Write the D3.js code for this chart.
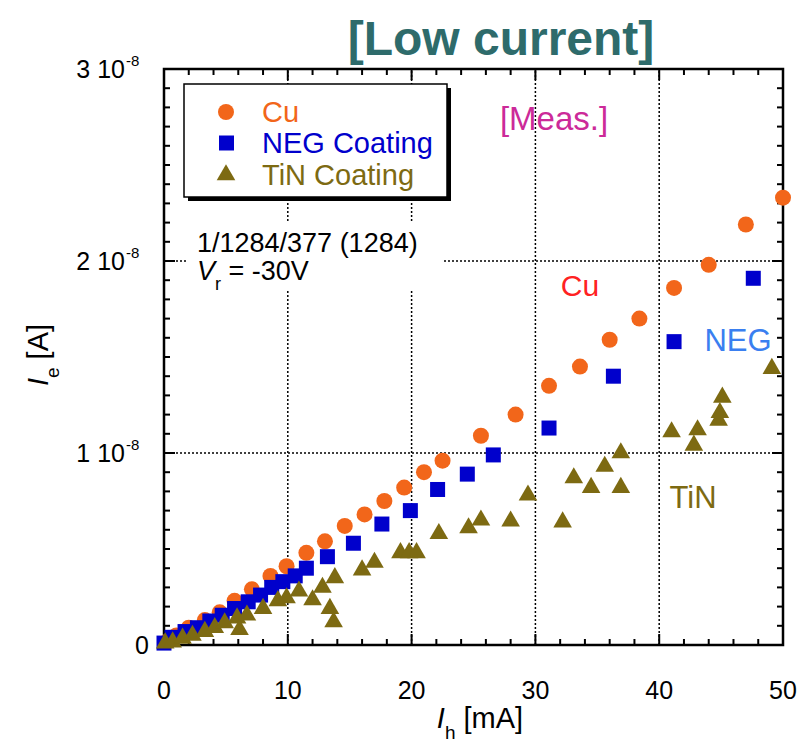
<!DOCTYPE html>
<html><head><meta charset="utf-8">
<script src="https://cdn.jsdelivr.net/npm/d3@7"></script>
<style>body{margin:0;background:#fff}svg{display:block}</style>
</head><body><svg id="c" width="800" height="745"></svg>
<script>
// Data: [I_h (mA), I_e (units of 1e-9 A)]
const cuData = [[0.3,0.2],[1.0,0.5],[2.0,0.9],[3.3,1.3],[4.5,1.7],[5.7,2.3],[7.1,2.9],[8.6,3.6],[9.9,4.1],[11.5,4.8],[13.0,5.4],[14.6,6.2],[16.2,6.8],[17.8,7.5],[19.4,8.2],[21.0,9.0],[22.5,9.6],[25.6,10.9],[28.4,12.0],[31.1,13.5],[33.6,14.5],[36.0,15.9],[38.4,17.0],[41.2,18.6],[44.0,19.8],[47.0,21.9],[50.0,23.3]];
const negData = [[0.0,0.1],[0.65,0.4],[1.7,0.7],[2.7,0.9],[3.7,1.25],[4.7,1.55],[5.7,1.9],[6.8,2.25],[7.8,2.6],[8.7,3.0],[9.6,3.3],[10.6,3.6],[11.5,4.0],[13.2,4.6],[15.3,5.3],[17.6,6.3],[19.9,7.0],[22.1,8.1],[24.5,8.9],[26.6,9.9],[31.1,11.3],[36.3,14.0],[41.2,15.8],[47.6,19.1]];
const tinData = [[0.1,0.1],[0.7,0.15],[1.5,0.35],[2.3,0.5],[3.3,0.7],[4.1,0.9],[4.9,1.15],[5.9,1.4],[6.1,0.8],[6.7,1.55],[8.0,1.9],[9.2,2.3],[9.9,2.45],[10.9,2.8],[12.0,2.35],[12.8,3.0],[13.4,1.9],[13.7,1.2],[13.8,3.5],[16.0,3.9],[17.0,4.3],[19.1,4.8],[19.8,4.8],[20.4,4.8],[22.2,5.8],[24.6,6.1],[25.6,6.5],[28.0,6.45],[29.4,7.8],[32.2,6.4],[33.1,8.7],[34.5,8.2],[35.6,9.3],[36.9,8.2],[36.9,10.0],[41.0,11.1],[42.8,10.4],[43.1,11.2],[44.8,11.7],[44.9,12.1],[45.1,12.9],[49.1,14.4]];
const seriesNames = ["Cu","NEG Coating","TiN Coating"];
const xTicks = [0,10,20,30,40,50];
const yTicks = [0,10,20,30];
const yTickLabels = ["0","1 10","2 10","3 10"];

const svg = d3.select("#c");
const x = d3.scaleLinear().domain([0,50]).range([164,783]);
const y = d3.scaleLinear().domain([0,30]).range([645,69]);
const X0=x(0),X1=x(50),Y0=y(0),Y1=y(30);
const colCu="#f2661a", colNeg="#0000cc", colTin="#7d6a12";
const SANS="Liberation Sans, Arial, sans-serif";

// gridlines
const g = svg.append("g");
g.selectAll("line.gx").data([10,20,30,40]).enter().append("line")
 .attr("x1",d=>x(d)).attr("x2",d=>x(d)).attr("y1",Y0).attr("y2",Y1)
 .attr("stroke","#000").attr("stroke-width",1.5).attr("stroke-dasharray","2,2");
g.selectAll("line.gy").data([10,20]).enter().append("line")
 .attr("x1",X0).attr("x2",X1).attr("y1",d=>y(d)).attr("y2",d=>y(d))
 .attr("stroke","#000").attr("stroke-width",1.5).attr("stroke-dasharray","2,2");

// white box behind annotation
svg.append("rect").attr("x",186).attr("y",222).attr("width",256).attr("height",68).attr("fill","#fff");

// ticks inward on all four sides
const xMinor = d3.range(0,51,2), yMinor = d3.range(0,31,1);
const tk = svg.append("g").attr("stroke","#000").attr("stroke-width",2);
xMinor.forEach(v=>{
  const L = (v%10===0)?11:6;
  tk.append("line").attr("x1",x(v)).attr("x2",x(v)).attr("y1",Y0).attr("y2",Y0-L);
  tk.append("line").attr("x1",x(v)).attr("x2",x(v)).attr("y1",Y1).attr("y2",Y1+L);
});
yMinor.forEach(v=>{
  const L = (v%10===0)?11:6;
  tk.append("line").attr("x1",X0).attr("x2",X0+L).attr("y1",y(v)).attr("y2",y(v));
  tk.append("line").attr("x1",X1).attr("x2",X1-L).attr("y1",y(v)).attr("y2",y(v));
});
svg.append("rect").attr("x",X0).attr("y",Y1).attr("width",X1-X0).attr("height",Y0-Y1)
 .attr("fill","none").attr("stroke","#000").attr("stroke-width",2.5);

// tick labels
svg.selectAll("text.xt").data(xTicks).enter().append("text")
 .attr("x",d=>x(d)).attr("y",699).attr("text-anchor","middle")
 .attr("font-family",SANS).attr("font-size",25).text(d=>d);
yTicks.forEach((v,i)=>{
  svg.append("text").attr("x",i===0?149:125).attr("y",y(v)+9).attr("text-anchor","end")
   .attr("font-family",SANS).attr("font-size",25).text(yTickLabels[i]);
  if(i>0){
    svg.append("text").attr("x",126).attr("y",y(v)-3).attr("font-family",SANS)
     .attr("font-size",15).text("-8");
  }
});

// axis titles
const xt = svg.append("text").attr("x",480).attr("y",728).attr("text-anchor","middle")
 .attr("font-family",SANS).attr("font-size",29);
xt.append("tspan").attr("font-style","italic").text("I");
xt.append("tspan").attr("font-size",19).attr("dy",11).text("h");
xt.append("tspan").attr("dy",-11).text(" [mA]");
const yt = svg.append("text").attr("transform","translate(48,355) rotate(-90)").attr("text-anchor","middle")
 .attr("font-family",SANS).attr("font-size",29);
yt.append("tspan").attr("font-style","italic").text("I");
yt.append("tspan").attr("font-size",19).attr("dy",11).text("e");
yt.append("tspan").attr("dy",-11).text(" [A]");

// data
svg.append("g").selectAll("circle").data(cuData).enter().append("circle")
 .attr("cx",d=>x(d[0])).attr("cy",d=>y(d[1])).attr("r",8).attr("fill",colCu);
svg.append("g").selectAll("rect").data(negData).enter().append("rect")
 .attr("x",d=>x(d[0])-7.5).attr("y",d=>y(d[1])-7.5).attr("width",15).attr("height",15).attr("fill",colNeg);
const tri = d3.symbol().type(d3.symbolTriangle).size(150);
svg.append("g").selectAll("path").data(tinData).enter().append("path")
 .attr("transform",d=>`translate(${x(d[0])},${y(d[1])})`).attr("d",tri).attr("fill",colTin);

// legend
svg.append("rect").attr("x",188).attr("y",88).attr("width",263).attr("height",113).attr("fill","#000");
svg.append("rect").attr("x",184).attr("y",84).attr("width",263).attr("height",113).attr("fill","#fff")
 .attr("stroke","#000").attr("stroke-width",1.5);
const lg = svg.append("g").attr("font-family",SANS).attr("font-size",29);
const lgCols=[colCu,colNeg,colTin], lgY=[112,143,175];
seriesNames.forEach((n,i)=>{
  if(i===0) lg.append("circle").attr("cx",226).attr("cy",lgY[i]).attr("r",8).attr("fill",colCu);
  if(i===1) lg.append("rect").attr("x",219).attr("y",lgY[i]-7.5).attr("width",15).attr("height",15).attr("fill",colNeg);
  if(i===2) lg.append("path").attr("transform",`translate(226,${lgY[i]})`).attr("d",tri).attr("fill",colTin);
  lg.append("text").attr("x",262).attr("y",lgY[i]+10).attr("fill",lgCols[i]).text(n);
});

// annotations
svg.append("text").attr("x",501).attr("y",55).attr("text-anchor","middle").attr("font-family",SANS)
 .attr("font-weight","bold").attr("font-size",48).attr("fill","#2e6b6b").text("[Low current]");
svg.append("text").attr("x",554).attr("y",130).attr("text-anchor","middle").attr("font-family",SANS)
 .attr("font-size",33).attr("fill","#cc2a99").text("[Meas.]");
const a1 = svg.append("g").attr("font-family",SANS).attr("font-size",27).attr("fill","#000");
a1.append("text").attr("x",197).attr("y",252).text("1/1284/377 (1284)");
const vr = a1.append("text").attr("x",197).attr("y",280);
vr.append("tspan").attr("font-style","italic").text("V");
vr.append("tspan").attr("font-size",18).attr("dy",10).text("r");
vr.append("tspan").attr("dy",-10).text(" = -30V");
svg.append("text").attr("x",580).attr("y",296).attr("text-anchor","middle").attr("font-family",SANS)
 .attr("font-size",30).attr("fill","#ff2222").text("Cu");
svg.append("text").attr("x",738).attr("y",351).attr("text-anchor","middle").attr("font-family",SANS)
 .attr("font-size",31).attr("fill","#3a7ff0").text("NEG");
svg.append("text").attr("x",693).attr("y",508).attr("text-anchor","middle").attr("font-family",SANS)
 .attr("font-size",31).attr("fill",colTin).text("TiN");
</script></body></html>
